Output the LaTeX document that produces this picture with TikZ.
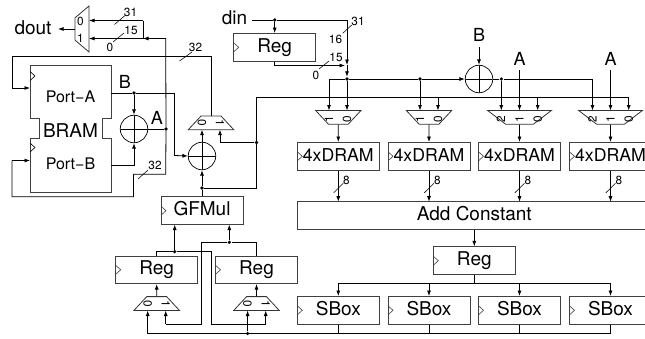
\documentclass[tikz,border=0pt]{standalone}
\usepackage{fontspec}
\setmainfont{TeX Gyre Heros}
\usetikzlibrary{arrows.meta,shapes.geometric}

\begin{document}
\begin{tikzpicture}[x=1pt,y=-1pt,>={Latex[length=5.5pt,width=4pt]},line width=0.8pt]
\tikzstyle{fbig}=[font=\fontsize{19}{20}\selectfont]
\tikzstyle{box}=[draw=black!75,line width=1pt,minimum height=27.5pt,inner sep=0pt,text height=13.5pt,text depth=4pt,fbig]
\tikzstyle{clk}=[path picture={\draw[line width=0.6pt] ([yshift=4.5pt]path picture bounding box.west) -- ([xshift=5pt]path picture bounding box.west) -- ([yshift=-4.5pt]path picture bounding box.west);}]
\tikzstyle{reg}=[box,clk,minimum width=82pt]
\tikzstyle{dram}=[reg,font=\fontsize{17.7}{20}\selectfont]
\tikzstyle{xor}=[circle,draw,line width=0.7pt,minimum size=27.5pt,inner sep=0pt,path picture={\draw[line width=0.7pt] (path picture bounding box.north) -- (path picture bounding box.south) (path picture bounding box.west) -- (path picture bounding box.east);}]
\tikzstyle{dot}=[circle,fill,inner sep=0pt,minimum size=3.6pt]
\tikzstyle{muxu}=[trapezium,draw=black!80,line width=0.8pt,trapezium stretches=true,trapezium left angle=57,trapezium right angle=57,minimum width=45.5pt,minimum height=13.8pt,inner sep=0pt,execute at begin node={\phantom{\rule{4pt}{4pt}}}]
\tikzstyle{muxd}=[muxu,rotate=180]
\tikzstyle{muxw}=[muxd,minimum width=64pt]
\tikzstyle{lbl}=[inner sep=0pt,font=\fontsize{11.8}{12}\selectfont]
\tikzstyle{mlbl}=[lbl,rotate=-90]
\tikzstyle{big}=[inner sep=0pt,fbig]
\tikzstyle{sig}=[inner sep=0pt,font=\fontsize{18}{20}\selectfont]
\tikzstyle{tick}=[line width=0.55pt]
\useasboundingbox (0,0) rectangle (645,338);

% output mux
\node[muxu,rotate=90,trapezium left angle=62,trapezium right angle=62,minimum width=46pt,minimum height=14pt] (mo) at (82,29) {};
\node[lbl] (mo0) at (80.5,21) {0};
\node[lbl] (mo1) at (80.5,38) {1};
\node[big] (dout) at (33,27.5) {dout};
\coordinate (moin0) at (89,20.5);
\coordinate (moin1) at (89,38.5);
\coordinate (moout) at (75,29);
\coordinate (doutin) at (58,29);
\draw[->] (moout) -- (doutin);

% BRAM
\draw[black!75,line width=1pt] (30,65.5) -- (111,65.5) -- (111,118) -- (102,118) -- (102,138) -- (111,138) -- (111,192.7) -- (30,192.7) -- (30,138) -- (39,138) -- (39,118) -- (30,118) -- cycle;
\draw[line width=0.6pt] (30,71.5) -- (35,76) -- (30,80.5) (30,143) -- (35,147.5) -- (30,152);
\node[inner sep=0pt,font=\fontsize{16}{16}\selectfont] (porta) at (70.5,96.5) {Port\char"2212 A};
\node[inner sep=0pt,font=\fontsize{16}{16}\selectfont] (portb) at (70.5,164) {Port\char"2212 B};
\node[big] (bram) at (70.5,131) {BRAM};
\coordinate (paout) at (111,93);
\coordinate (pbout) at (111,165);
\coordinate (pain) at (30,88);
\coordinate (pbin) at (30,160.5);

\node[xor] (xa) at (134,129) {};
\node[xor] (xb) at (202,156) {};
\node[sig] (la) at (157,118) {A};
\node[sig] (lb) at (125,81.5) {B};
\node[dot] (da) at (134,93) {};
\node[dot] (db) at (166,129) {};
\node[dot] (dc) at (256.5,142.5) {};
\node[dot] (dd) at (202,188) {};

% mux above the second xor
\node[muxu] (mw) at (211,122.8) {};
\node[mlbl] (mw0) at (202,122.5) {0};
\node[mlbl] (mw1) at (220,122.5) {1};

\draw (paout) -- (da);
\draw[->] (da) -- (xa.north);
\draw (da) -- (174.7,93) -- (174.7,155.5);
\draw[->] (174.7,155.5) -- (xb.west);
\draw[->] (pbout) -| (xa.south);
\draw (xa.east) -- (db);
\draw (db) -- (165.7,174.3) -- (133.5,174.3) -- (133.5,196.7) -- (12,196.7) -- (12,160.5);
\draw[->] (12,160.5) -- (pbin);
\draw[->] (db) -- (165.7,38.5) -- (143,38.5);
\draw (211,116) -- (211,56.5) -- (12,56.5) -- (12,88);
\draw[->] (12,88) -- (pain);
\draw[->] (143,20.5) -- (moin0);
\draw[->] (143,38.5) -- (moin1);
\draw (143,20.5) -- (143,38.5);
\draw[->] (xb.north) -- (202,129.7);
\draw[->] (dc) -- (220,142.5) -- (220,129.7);
\draw (256.5,97.3) -- (256.5,188) -- (dd);
\draw[->] (dd) -- (xb.south);

% din
\node[big] (din) at (234.5,18) {din};
\node[reg] (rd) at (274.7,47.3) {Reg};
\node[dot] (de) at (274.7,20) {};
\node[dot] (df) at (347,79) {};
\draw (252,20) -- (de);
\draw[->] (de) -- (rd.north);
\draw[->] (de) -- (347,20) -- (347,65);
\draw[->] (rd.south) -- (274.7,65.5) -- (345,65.5);
\draw[->] (347,65) -- (df);

% mux row
\node[muxd] (m1) at (338.3,117.3) {};
\node[muxd] (m2) at (429,117.3) {};
\node[muxw] (m3) at (519.5,117.3) {};
\node[muxw] (m4) at (610.5,117.3) {};
\node[mlbl,rotate=180] (m1a) at (329,119) {1};
\node[mlbl,rotate=180] (m1b) at (347,119) {0};
\node[mlbl,rotate=180] (m2a) at (420,119) {1};
\node[mlbl,rotate=180] (m2b) at (438,119) {0};
\node[mlbl,rotate=180] (m3a) at (501,119) {2};
\node[mlbl,rotate=180] (m3b) at (519.5,119) {1};
\node[mlbl,rotate=180] (m3c) at (537.7,119) {0};
\node[mlbl,rotate=180] (m4a) at (592.5,119) {2};
\node[mlbl,rotate=180] (m4b) at (610.5,119) {1};
\node[mlbl,rotate=180] (m4c) at (628.7,119) {0};

\node[xor] (xc) at (479,79) {};
\node[sig] (bc) at (479,35) {B};
\node[sig] (a3) at (519.5,59) {A};
\node[sig] (a4) at (610.5,59) {A};
\node[dot] (dg) at (420,79) {};
\node[dot] (dh) at (501.3,79) {};

\draw[->] (329,79) -- (329,110.5);
\draw (329,79) -- (df);
\draw[->] (df) -- (347,110.5);
\draw (df) -- (dg);
\draw[->] (dg) -- (420,110.5);
\draw[->] (dg) -- (xc.west);
\draw[->] (479,47) -- (xc.north);
\draw (xc.east) -- (dh);
\draw[->] (dh) -- (501.3,110.5);
\draw[->] (dh) -- (592.5,79) -- (592.5,110.5);
\draw[->] (519.5,70) -- (519.5,110.5);
\draw[->] (610.5,70) -- (610.5,110.5);
\draw[->] (256.5,97.3) -- (628.7,97.3) -- (628.7,110.5);
\draw[->] (438,97.3) -- (438,110.5);
\draw[->] (537.7,97.3) -- (537.7,110.5);

% DRAM row
\node[dram] (dr1) at (338.3,156.3) {4xDRAM};
\node[dram] (dr2) at (429,156.3) {4xDRAM};
\node[dram] (dr3) at (519.5,156.3) {4xDRAM};
\node[dram] (dr4) at (610.5,156.3) {4xDRAM};
\draw[->] (m1.north) -- (dr1.north);
\draw[->] (m2.north) -- (dr2.north);
\draw[->] (m3.north) -- (dr3.north);
\draw[->] (m4.north) -- (dr4.north);

\node[box,minimum width=354pt] (ac) at (474.3,215.3) {Add Constant};
\draw[->] (dr1.south) -- (338.3,201.7);
\draw[->] (dr2.south) -- (429,201.7);
\draw[->] (dr3.south) -- (519.5,201.7);
\draw[->] (dr4.south) -- (610.5,201.7);
\draw[tick] (333.7,192.7) -- (343.3,183.3) (424.4,192.7) -- (434,183.3) (514.9,192.7) -- (524.5,183.3) (605.9,192.7) -- (615.5,183.3);
\node[lbl] (w1) at (346.5,180) {8};
\node[lbl] (w2) at (437.3,180) {8};
\node[lbl] (w3) at (527.8,180) {8};
\node[lbl] (w4) at (618.8,180) {8};

\node[reg] (rc) at (474.3,260.7) {Reg};
\draw[->] (ac.south) -- (rc.north);

% SBox row
\node[reg] (s1) at (338.3,310.3) {SBox};
\node[reg] (s2) at (429,310.3) {SBox};
\node[reg] (s3) at (519.5,310.3) {SBox};
\node[reg] (s4) at (610.5,310.3) {SBox};
\draw (rc.south) -- (474.3,283.5);
\draw[->] (338.3,283.5) -- (s1.north);
\draw[->] (429,283.5) -- (s2.north);
\draw[->] (519.5,283.5) -- (s3.north);
\draw[->] (610.5,283.5) -- (s4.north);
\draw (338.3,283.5) -- (610.5,283.5);

% GFMul and its inputs
\node[reg] (gf) at (202,210.7) {GFMul};
\node[reg] (r1) at (156.7,269.8) {Reg};
\node[reg] (r2) at (256.5,269.8) {Reg};
\node[muxu] (m5) at (156.7,303.5) {};
\node[muxu] (m6) at (256.5,303.5) {};
\node[mlbl] (m5a) at (147.7,303.5) {0};
\node[mlbl] (m5b) at (165.7,303.5) {1};
\node[mlbl] (m6a) at (247.5,303.5) {0};
\node[mlbl] (m6b) at (265.7,303.5) {1};
\node[dot] (di) at (174.7,251.7) {};
\node[dot] (dj) at (229.3,242.3) {};
\node[dot] (dk) at (247.6,333.5) {};

\draw (gf.north) -- (dd);
\draw[->] (di) -- (174.7,224.5);
\draw[->] (dj) -- (229.3,224.5);
\draw (r1.north) -- (156.7,251.7) -- (di);
\draw (di) -- (211,251.7) -- (211,324) -- (265.7,324);
\draw[->] (265.7,324) -- (265.7,310.5);
\draw (r2.north) -- (256.5,242.3) -- (dj);
\draw (dj) -- (201.7,242.3) -- (201.7,324) -- (165.7,324);
\draw[->] (165.7,324) -- (165.7,310.5);
\draw[->] (m5.north) -- (r1.south);
\draw[->] (m6.north) -- (r2.south);
\draw (147.7,333.5) -- (610.5,333.5);
\draw[->] (147.7,333.5) -- (147.7,310.5);
\draw[->] (dk) -- (247.6,310.5);
\draw (dk) -- (247.6,324);
\draw (s1.south) -- (338.3,333.5);
\draw (s2.south) -- (429,333.5);
\draw (s3.south) -- (519.5,333.5);
\draw (s4.south) -- (610.5,333.5);

% bus labels
\draw[tick] (114.5,24.5) -- (125,15.5) (113,42) -- (124,33) (179.5,61) -- (192,52) (138,179) -- (148,170) (342.7,33.3) -- (351.7,25) (319,69) -- (329,61);
\node[lbl] (t1) at (130.5,12) {31};
\node[lbl] (t2) at (131,30) {15};
\node[lbl] (t3) at (110,47.5) {0};
\node[lbl] (t4) at (195.5,47) {32};
\node[lbl] (t5) at (155,165) {32};
\node[lbl] (t6) at (358,21) {31};
\node[lbl] (t7) at (335.5,39) {16};
\node[lbl] (t8) at (336,57) {15};
\node[lbl] (t9) at (316,75) {0};
\end{tikzpicture}
\end{document}
